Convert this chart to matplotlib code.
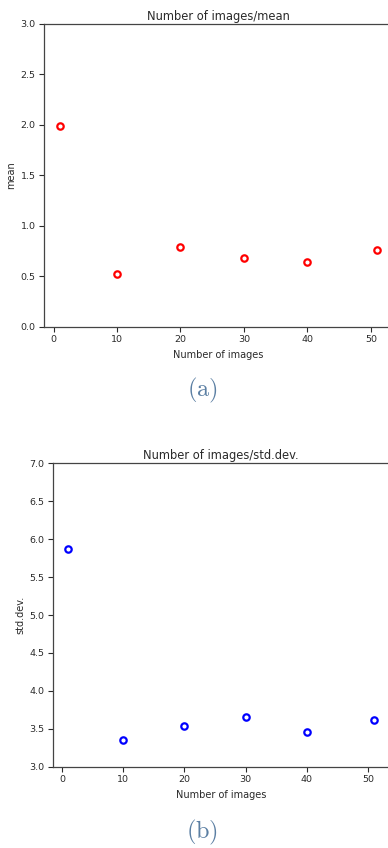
import matplotlib
matplotlib.use("Agg")
import matplotlib.pyplot as plt

# number of images used for each estimate
num_images = [1, 10, 20, 30, 40, 51]
# mean of the estimates
mean_values = [1.99, 0.52, 0.79, 0.68, 0.64, 0.76]
# standard deviation of the estimates
std_values = [5.87, 3.35, 3.53, 3.65, 3.46, 3.61]

plt.rcParams["mathtext.fontset"] = "cm"
text_color = "#2a2a2a"
caption_color = "#5b7fa3"
tick_size = 6.8
label_size = 7.0
title_size = 8.3

fig = plt.figure(figsize=(3.88, 8.48), dpi=100)

ax1 = fig.add_axes([0.1134, 0.6144, 0.8996, 0.3573])
ax2 = fig.add_axes([0.1358, 0.0959, 0.8682, 0.3577])


def style(ax, ylabel, title, ylim, yticks):
    ax.set_ylim(*ylim)
    ax.set_yticks(yticks)
    ax.set_xlim(-1.5, 53.5)
    ax.set_xticks([0, 10, 20, 30, 40, 50])
    ax.set_xlabel("Number of images", fontsize=label_size, color=text_color, labelpad=4)
    ax.set_ylabel(ylabel, fontsize=label_size, color=text_color, labelpad=3)
    ax.set_title(title, fontsize=title_size, color=text_color, pad=3)
    ax.tick_params(labelsize=tick_size, colors=text_color, length=3.5, width=0.8, pad=2.5)
    for s in ax.spines.values():
        s.set_color("#444444")
        s.set_linewidth(0.9)


ax1.plot(num_images, mean_values, linestyle="none", marker="o", markersize=4.6,
         markerfacecolor="white", markeredgecolor="red", markeredgewidth=1.6)
style(ax1, "mean", "Number of images/mean", (0.0, 3.0),
      [0.0, 0.5, 1.0, 1.5, 2.0, 2.5, 3.0])
ax1.set_yticklabels([f"{v:.1f}" for v in ax1.get_yticks()])

ax2.plot(num_images, std_values, linestyle="none", marker="o", markersize=4.6,
         markerfacecolor="white", markeredgecolor="blue", markeredgewidth=1.6)
style(ax2, "std.dev.", "Number of images/std.dev.", (3.0, 7.0),
      [3.0, 3.5, 4.0, 4.5, 5.0, 5.5, 6.0, 6.5, 7.0])
ax2.set_yticklabels([f"{v:.1f}" for v in ax2.get_yticks()])

fig.text(202 / 388, 1 - 390 / 848, r"$\mathrm{(a)}$", fontsize=17.5,
         color=caption_color, ha="center", va="center")
fig.text(202 / 388, 1 - 832 / 848, r"$\mathrm{(b)}$", fontsize=17.5,
         color=caption_color, ha="center", va="center")

fig.savefig("out.png", dpi=100)
